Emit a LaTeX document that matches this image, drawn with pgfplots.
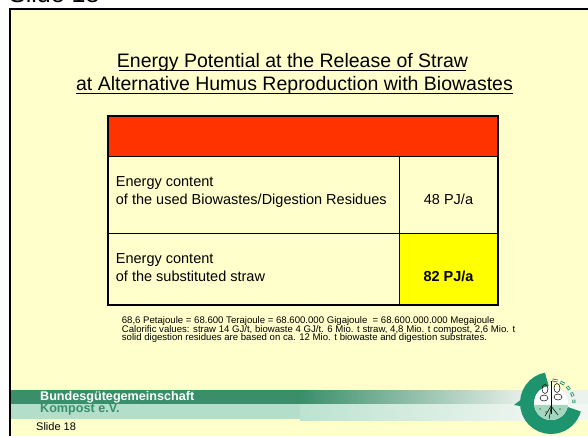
\documentclass[border=0pt]{standalone}
\usepackage{fontspec}
\setmainfont{Liberation Sans}
\usepackage{pgfplots}
\pgfplotsset{compat=1.18}
\definecolor{bg}{RGB}{255,255,204}
\definecolor{hdr}{RGB}{255,51,0}
\definecolor{ylw}{RGB}{255,255,0}
\definecolor{dgreen}{RGB}{58,142,106}
\definecolor{lgreen}{RGB}{178,222,202}
\definecolor{lgreenb}{RGB}{188,227,209}
\definecolor{paled}{RGB}{236,242,237}
\definecolor{palel}{RGB}{243,247,243}
\definecolor{logog}{RGB}{30,148,110}
\definecolor{soil}{RGB}{165,214,190}
\newcommand{\fs}[1]{\fontsize{#1pt}{#1pt}\selectfont}
\begin{document}
\begin{tikzpicture}
\begin{axis}[
  scale only axis, width=588pt, height=436pt,
  xmin=0, xmax=588, ymin=0, ymax=436, y dir=reverse,
  hide axis, clip=true,
]
% page background
\fill[white] (axis cs:0,0) rectangle (axis cs:588,436);
\node[overlay, anchor=base west, inner sep=0, font={\fs{25}}] at (axis cs:9,3) {Slide 18};
\fill[bg] (axis cs:10,9) rectangle (axis cs:588,436);
\draw[black, line width=2pt] (axis cs:10,436) -- (axis cs:10,9) -- (axis cs:588,9);

% title
\node[anchor=base, inner sep=0, font={\fs{19.5}}] at (axis cs:292.5,67.8) {Energy Potential at the Release of Straw};
\node[anchor=base, inner sep=0, font={\fs{19.5}}] at (axis cs:294.5,90) {at Alternative Humus Reproduction with Biowastes};
\draw[line width=1.3pt] (axis cs:119,70.6) -- (axis cs:466,70.6);
\draw[line width=1.3pt] (axis cs:76,93.6) -- (axis cs:513,93.6);

% table
\fill[hdr] (axis cs:108,116) rectangle (axis cs:498,156);
\fill[ylw] (axis cs:399,233) rectangle (axis cs:498,305);
\draw[line width=1pt] (axis cs:108,156) -- (axis cs:498,156);
\draw[line width=1pt] (axis cs:108,233) -- (axis cs:498,233);
\draw[line width=1pt] (axis cs:399,156) -- (axis cs:399,305);
\draw[line width=1.7pt] (axis cs:108,116) rectangle (axis cs:498,305);

\node[anchor=base west, inner sep=0, font={\fs{14.5}}] at (axis cs:115.7,186.7) {Energy content};
\node[anchor=base west, inner sep=0, font={\fs{14.5}}] at (axis cs:115.7,204) {of the used Biowastes/Digestion Residues};
\node[anchor=base, inner sep=0, font={\fs{14.5}}] at (axis cs:448.5,204) {48 PJ/a};
\node[anchor=base west, inner sep=0, font={\fs{14.5}}] at (axis cs:115.7,263.3) {Energy content};
\node[anchor=base west, inner sep=0, font={\fs{14.5}}] at (axis cs:115.7,281) {of the substituted straw};
\node[anchor=base, inner sep=0, font={\fs{14.5}\bfseries}] at (axis cs:448.5,281) {82 PJ/a};

% footnote
\node[anchor=base west, inner sep=0, font={\fs{9.6}}] at (axis cs:121.7,323.3) {68,6 Petajoule = 68.600 Terajoule = 68.600.000 Gigajoule\ \ = 68.600.000.000 Megajoule};
\node[anchor=base west, inner sep=0, font={\fs{9.6}}] at (axis cs:121.7,332.2) {Calorific values: straw 14 GJ/t, biowaste 4 GJ/t. 6 Mio. t straw, 4,8 Mio. t compost, 2,6 Mio. t};
\node[anchor=base west, inner sep=0, font={\fs{9.6}}] at (axis cs:121.7,340.8) {solid digestion residues are based on ca. 12 Mio. t biowaste and digestion substrates.};

% footer bands
\fill[dgreen] (axis cs:11,390) rectangle (axis cs:300.5,404);
\fill[left color=dgreen, right color=paled] (axis cs:300,390) rectangle (axis cs:530,404);
\fill[paled] (axis cs:529.5,390) rectangle (axis cs:588,404);
\fill[lgreen] (axis cs:11,404) rectangle (axis cs:300.5,419);
\fill[left color=lgreenb, right color=palel] (axis cs:300,404) rectangle (axis cs:560,420);
\fill[palel] (axis cs:559.5,404) rectangle (axis cs:588,420);

\node[anchor=base west, inner sep=0, font={\fs{12.6}\bfseries}, text=white] at (axis cs:40,400.7) {Bundesgütegemeinschaft};
\node[anchor=base west, inner sep=0, font={\fs{12.6}\bfseries}, text=dgreen] at (axis cs:40,412.7) {Kompost e.V.};
\node[anchor=base west, inner sep=0, font={\fs{11}}] at (axis cs:36,430.7) {Slide 18};

% logo
\draw[logog, line width=14pt] (axis cs:551,403) ++(100:24pt) arc[start angle=100, end angle=345, radius=24pt];
\fill[logog] (axis cs:535,389) -- (axis cs:514,405) -- (axis cs:537,409) -- cycle;
\fill[white] (axis cs:551,403) circle[radius=17pt];
\fill[soil] (axis cs:551,403) ++(-6:17pt) arc[start angle=-6, end angle=-174, radius=17pt] -- cycle;
\draw[black, line width=0.6pt] (axis cs:551,381) -- (axis cs:551,414);
\draw[black, line width=0.5pt] (axis cs:551,406) -- (axis cs:545,416);
\draw[black, line width=0.5pt] (axis cs:551,406) -- (axis cs:558,415);
\draw[black, line width=0.5pt] (axis cs:551,408) -- (axis cs:549,419);
\draw[black, line width=0.5pt] (axis cs:545,389) ellipse[x radius=3pt, y radius=4.5pt];
\draw[black, line width=0.5pt] (axis cs:557,388) ellipse[x radius=3pt, y radius=4.5pt];
\draw[black, line width=0.5pt] (axis cs:544,398) ellipse[x radius=4pt, y radius=3pt];
\draw[black, line width=0.5pt] (axis cs:558,397) ellipse[x radius=4pt, y radius=3pt];
\fill[black] (axis cs:546,412) circle[radius=0.6pt];
\fill[black] (axis cs:560,409) circle[radius=0.6pt];
\fill[black] (axis cs:540,409) circle[radius=0.6pt];
% rays
\draw[logog, line width=3pt] (axis cs:551,403) ++(74:23pt) arc[start angle=74, end angle=86, radius=23pt];
\draw[logog, line width=3pt] (axis cs:551,403) ++(55:23pt) arc[start angle=55, end angle=66, radius=23pt];
\draw[logog, line width=3pt] (axis cs:551,403) ++(36:23pt) arc[start angle=36, end angle=46, radius=23pt];
\draw[logog, line width=3pt] (axis cs:551,403) ++(17:23pt) arc[start angle=17, end angle=27, radius=23pt];
\draw[logog, line width=3pt] (axis cs:551,403) ++(0:23pt) arc[start angle=0, end angle=8, radius=23pt];
\draw[white, line width=1pt] (axis cs:551,403) ++(75:23pt) arc[start angle=75, end angle=85, radius=23pt];
\draw[white, line width=1pt] (axis cs:551,403) ++(56:23pt) arc[start angle=56, end angle=65, radius=23pt];
\draw[white, line width=1pt] (axis cs:551,403) ++(37:23pt) arc[start angle=37, end angle=45, radius=23pt];
\draw[white, line width=1pt] (axis cs:551,403) ++(18:23pt) arc[start angle=18, end angle=26, radius=23pt];
\draw[white, line width=1pt] (axis cs:551,403) ++(1:23pt) arc[start angle=1, end angle=7, radius=23pt];
\end{axis}
\end{tikzpicture}
\end{document}
